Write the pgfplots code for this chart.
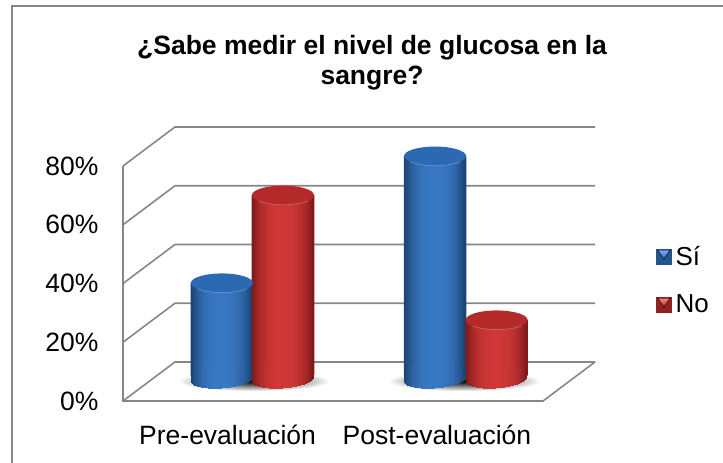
\documentclass[border=0pt]{standalone}
\usepackage{pgfplots}
\usepackage{pgfplotstable}
\pgfplotsset{compat=1.18}
\usepackage{fontspec}
\setmainfont{Liberation Sans}
\pgfplotstableread{
x v
0.471 32.7
1.486 75.9
}\siData
\pgfplotstableread{
x v
0.762 62.6
1.779 20.1
}\noData
\definecolor{gridc}{HTML}{868686}
\definecolor{topblue}{HTML}{2B69B2}
\definecolor{topred}{HTML}{B42A2A}
\definecolor{cBc}{HTML}{3878C4}
\definecolor{cBe}{HTML}{1D4474}
\definecolor{cRc}{HTML}{D03737}
\definecolor{cRe}{HTML}{7F1A1A}
\newcommand{\cylbase}[2]{%
  \foreach \k in {-30,...,30}{%
    \pgfmathsetmacro\xa{\k-0.65}%
    \pgfmathsetmacro\xb{\k+0.65}%
    \pgfmathsetmacro\yb{-9.5*sqrt(max(0,1-(\k/31)^2))+\k*0.07}%
    \pgfmathtruncatemacro\p{100*(1-abs(\k/30)^2.6)}%
    \fill[#1!\p!#2,draw=none] (\xa bp,\yb bp) rectangle (\xb bp,14bp);
  }}
\pgfdeclareplotmark{topB}{\fill[topblue,draw=none,rotate=4] (0bp,0bp) ellipse (31bp and 9.5bp);
  \draw[line width=0.8bp,color=white!25!topblue,rotate=4] (-24bp,-6bp) arc[start angle=218,end angle=322,x radius=31bp,y radius=9.5bp];}
\pgfdeclareplotmark{topR}{\fill[topred,draw=none,rotate=4] (0bp,0bp) ellipse (31bp and 9.5bp);
  \draw[line width=0.8bp,color=white!25!topred,rotate=4] (-24bp,-6bp) arc[start angle=218,end angle=322,x radius=31bp,y radius=9.5bp];}
\pgfdeclareplotmark{botB}{\cylbase{cBc}{cBe}}
\pgfdeclareplotmark{botR}{\cylbase{cRc}{cRe}}
\pgfdeclareplotmark{shad}{\shade[inner color=black!100,outer color=white,draw=none] (0bp,0bp) ellipse (76bp and 10bp);}
\begin{document}
\begin{tikzpicture}
\useasboundingbox (0,0) rectangle (723bp,463bp);
\draw[line width=1.6bp,color=gridc] (12bp,0bp) -- (12bp,457bp) -- (723bp,457bp);
\begin{axis}[
  at={(123bp,62bp)},anchor=south west,scale only axis,width=420bp,height=235bp,
  xmin=0,xmax=2,ymin=0,ymax=80,clip=false,
  axis lines=none,
  title={¿Sabe medir el nivel de glucosa en la\\sangre?},
  title style={at={(0.593,1.413)},anchor=center,align=center,font=\fontsize{26.5bp}{30bp}\selectfont\bfseries},
]
\pgfplotsinvokeforeach{0,20,40,60,80}{
  \addplot[gridc,line width=1.6bp] coordinates {(0,#1) (0.2476,#1+13.28) (2.2476,#1+13.28)};
}
\addplot[gridc,line width=1.6bp] coordinates {(0,80) (0,0) (2,0) (2.2476,13.28)};
\end{axis}
\begin{axis}[
  at={(123bp,62bp)},anchor=south west,scale only axis,width=420bp,height=235bp,
  xmin=0,xmax=2,ymin=0,ymax=80,clip=false,
  axis line style={draw=none},tick style={draw=none},
  xtick={0.498,1.495},xticklabels={Pre-evaluación,Post-evaluación},
  ytick={0,20,40,60,80},yticklabels={0\%,20\%,40\%,60\%,80\%},
  x tick label style={font=\fontsize{26.5bp}{30bp}\selectfont,anchor=center,yshift=-34bp},
  y tick label style={font=\fontsize{26.5bp}{30bp}\selectfont,anchor=east,xshift=-21bp},
  legend style={at={(rel axis cs:1.269,0.665)},anchor=north west,draw=none,fill=none,
    font=\fontsize{26bp}{28bp}\selectfont,row sep=26bp,inner sep=0pt,
    nodes={inner sep=1bp,anchor=west},
    /tikz/every odd column/.append style={column sep=3bp}},
  legend cell align=left,
]
\addlegendimage{legend image code/.code={\fill[topblue!80!black] (0bp,-7.5bp) rectangle (15bp,7.5bp);\shade[top color=cyan!30!blue!50!white,bottom color=topblue] (1.5bp,6bp) -- (13.5bp,6bp) -- (7.5bp,-3bp) -- cycle;}}
\addlegendentry{Sí}
\addlegendimage{legend image code/.code={\fill[topred!80!black] (0bp,-7.5bp) rectangle (15bp,7.5bp);\shade[top color=red!50!white,bottom color=topred] (1.5bp,6bp) -- (13.5bp,6bp) -- (7.5bp,-3bp) -- cycle;}}
\addlegendentry{No}
\end{axis}
\begin{axis}[
  at={(123bp,62bp)},anchor=south west,scale only axis,width=420bp,height=235bp,
  xmin=0,xmax=2,ymin=-7.49,ymax=72.51,clip=false,hide axis,
]
\addplot[only marks,mark=shad,forget plot] coordinates {(0.6238,-0.7) (1.6238,-0.7)};
\addplot[only marks,mark=botB,forget plot] table[x=x,y expr=0] {\siData};
\pgfplotsinvokeforeach{-15,...,15}{
  \pgfmathsetmacro\s{#1*2}
  \pgfmathtruncatemacro\p{100*(1-abs(#1/15)^2.6)}
  \edef\temp{\noexpand\addplot[ybar,bar width=2.6bp,bar shift=\s bp,draw=none,fill=cBc!\p!cBe,forget plot] table[x=x,y=v] {\noexpand\siData};}
  \temp
}
\addplot[only marks,mark=topB,forget plot] table[x=x,y=v] {\siData};
\addplot[only marks,mark=botR,forget plot] table[x=x,y expr=0] {\noData};
\pgfplotsinvokeforeach{-15,...,15}{
  \pgfmathsetmacro\s{#1*2}
  \pgfmathtruncatemacro\p{100*(1-abs(#1/15)^2.6)}
  \edef\temp{\noexpand\addplot[ybar,bar width=2.6bp,bar shift=\s bp,draw=none,fill=cRc!\p!cRe,forget plot] table[x=x,y=v] {\noexpand\noData};}
  \temp
}
\addplot[only marks,mark=topR,forget plot] table[x=x,y=v] {\noData};
\end{axis}
\end{tikzpicture}
\end{document}
